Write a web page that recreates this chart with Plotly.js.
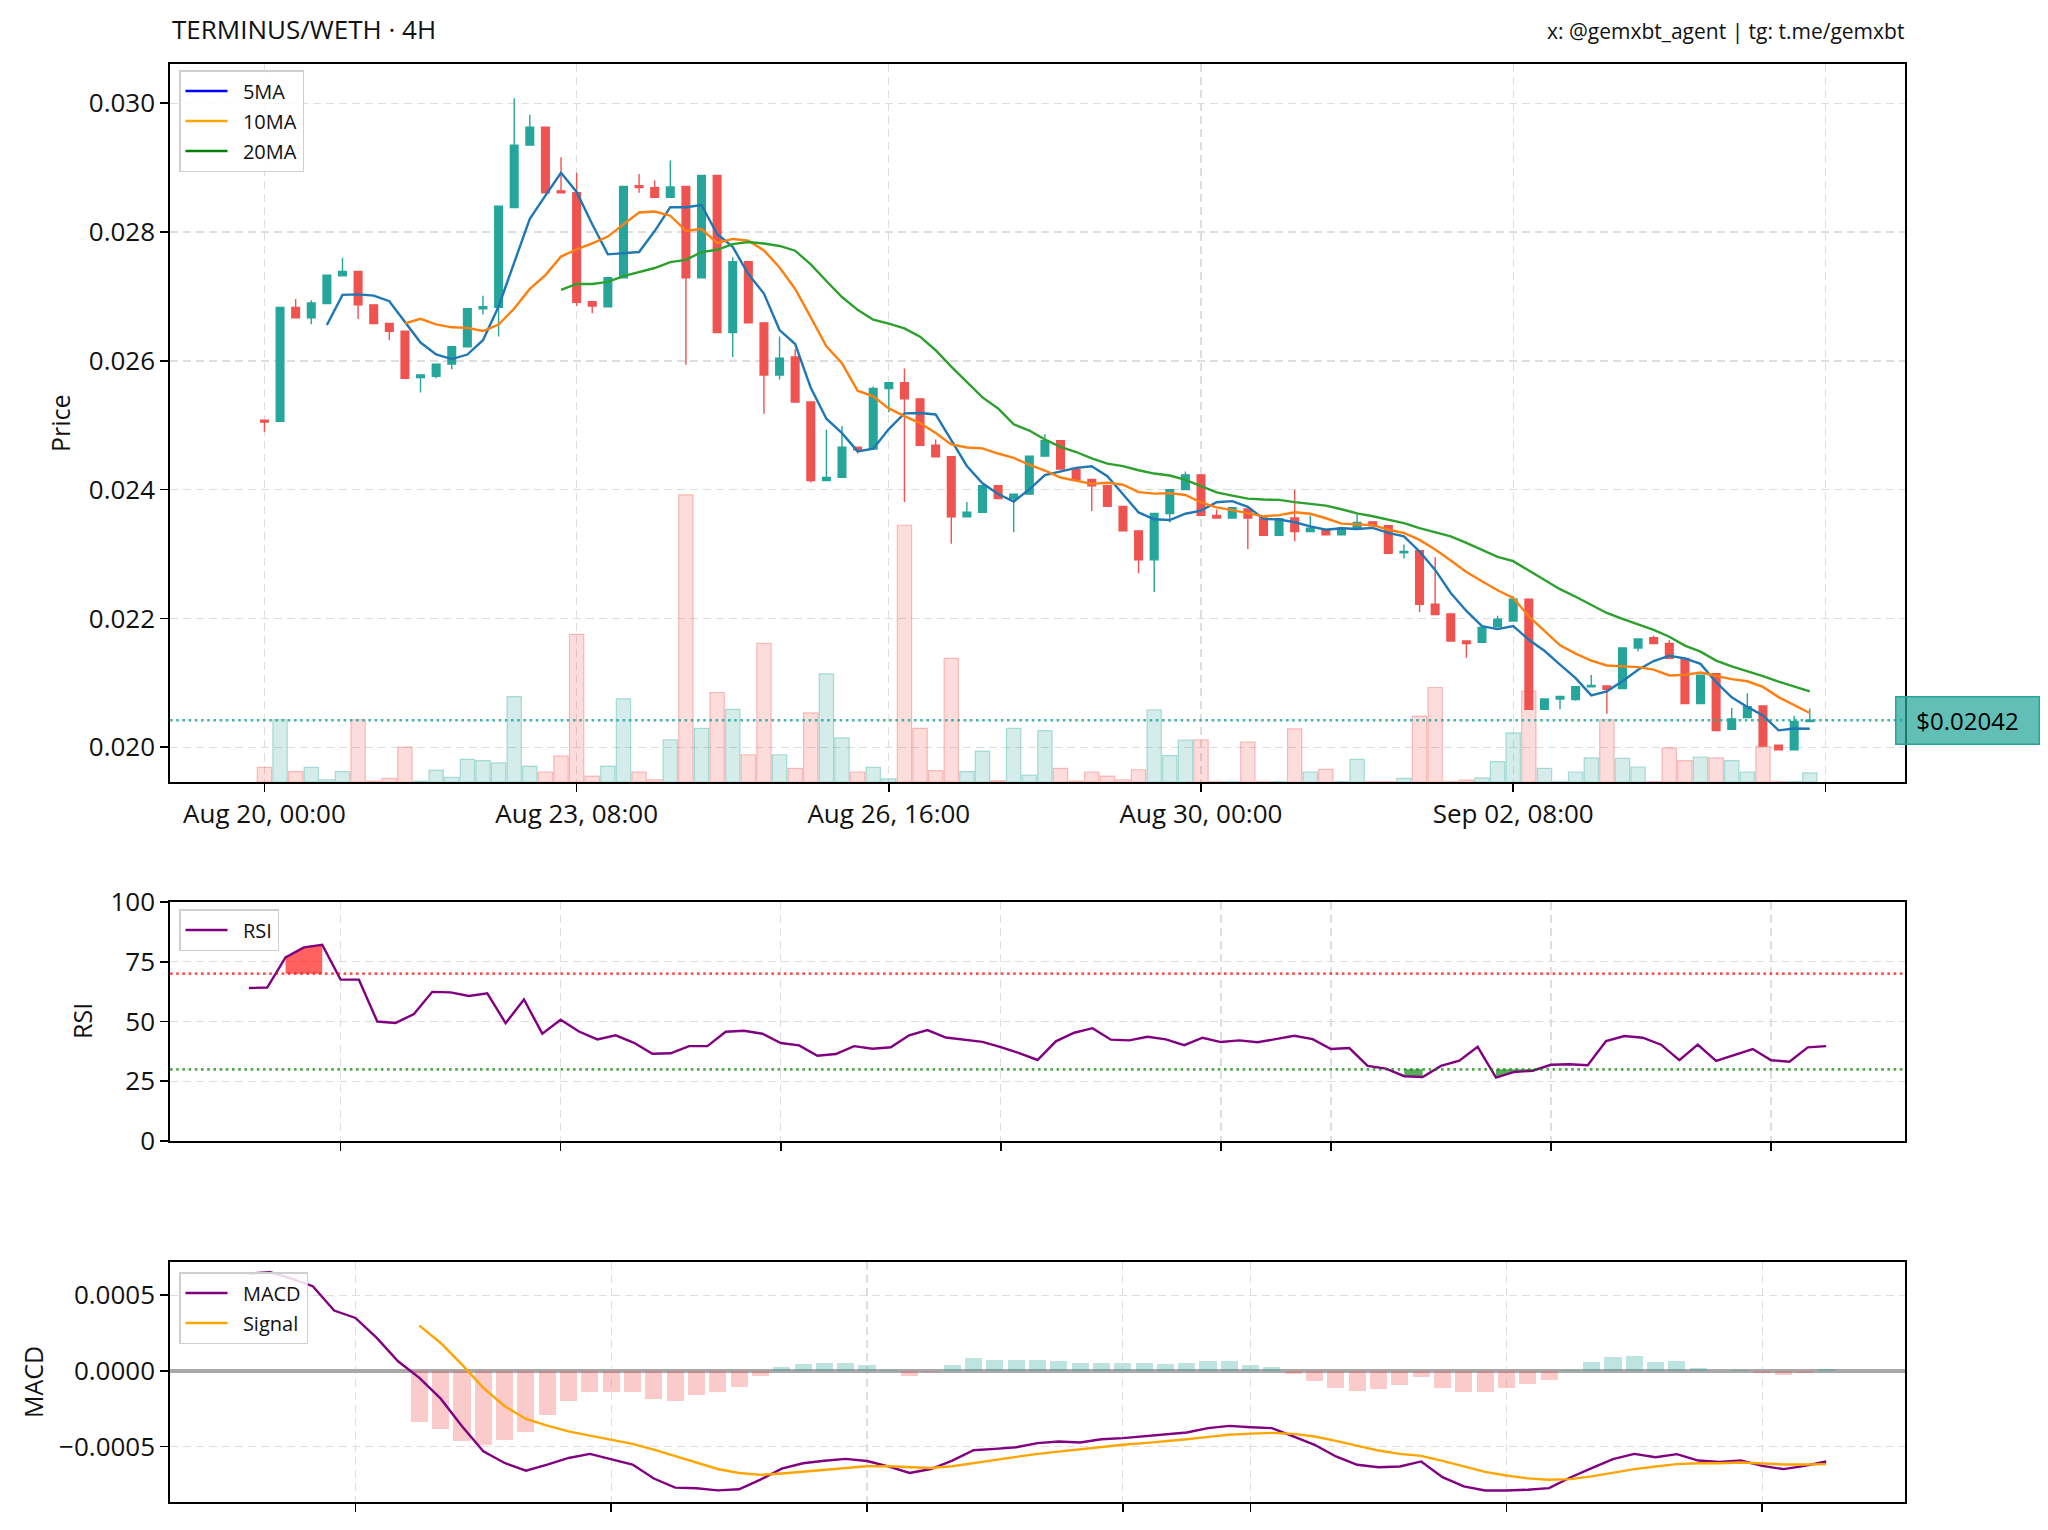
<!DOCTYPE html>
<html>
<head>
<meta charset="utf-8">
<script src="https://cdn.plot.ly/plotly-3.0.1.min.js"></script>
<style>
  html, body { margin: 0; padding: 0; background: #ffffff; }
  #chart { width: 2048px; height: 1530px; }
</style>
</head>
<body>
<div id="chart"></div>
<script>
// ---------------- DATA ----------------
// 4H candles, index 0 = Aug 20 00:00
const openP = [0.02508,0.02506,0.02683,0.02667,0.02689,0.02732,0.02739,0.02687,0.02658,0.02646,
  0.02574,0.02576,0.02595,0.02622,0.02681,0.02683,0.02838,0.02935,0.02963,0.02864,
  0.02861,0.02692,0.02684,0.02729,0.02872,0.02869,0.02854,0.02871,0.02729,0.02888,
  0.02644,0.02754,0.02659,0.02578,0.02606,0.02536,0.02414,0.02419,0.02466,0.02463,
  0.02557,0.02566,0.02541,0.02469,0.02451,0.02358,0.02365,0.02406,0.02386,0.02393,
  0.02452,0.02476,0.02432,0.02416,0.02406,0.02374,0.02336,0.02291,0.02363,0.02400,
  0.02423,0.02360,0.02356,0.02370,0.02356,0.02329,0.02356,0.02335,0.02338,0.02330,
  0.02340,0.02350,0.02344,0.02302,0.02305,0.02222,0.02207,0.02165,0.02163,0.02187,
  0.02196,0.02230,0.02059,0.02075,0.02074,0.02094,0.02095,0.02091,0.02154,0.02170,
  0.02161,0.02138,0.02068,0.02114,0.02028,0.02046,0.02064,0.02003,0.01996,0.02040];
const highP = [0.02508,0.02683,0.02696,0.02694,0.02733,0.02760,0.02739,0.02687,0.02658,0.02646,
  0.02578,0.02595,0.02622,0.02681,0.02701,0.02840,0.03008,0.02982,0.02963,0.02916,
  0.02892,0.02692,0.02729,0.02871,0.02890,0.02880,0.02911,0.02871,0.02888,0.02888,
  0.02761,0.02754,0.02659,0.02638,0.02618,0.02536,0.02493,0.02499,0.02466,0.02560,
  0.02566,0.02588,0.02541,0.02478,0.02451,0.02381,0.02406,0.02406,0.02393,0.02452,
  0.02486,0.02476,0.02432,0.02416,0.02406,0.02374,0.02336,0.02363,0.02400,0.02428,
  0.02423,0.02369,0.02372,0.02370,0.02356,0.02355,0.02400,0.02360,0.02338,0.02340,
  0.02363,0.02350,0.02344,0.02315,0.02305,0.02295,0.02207,0.02165,0.02186,0.02204,
  0.02235,0.02230,0.02075,0.02079,0.02094,0.02112,0.02095,0.02154,0.02168,0.02173,
  0.02166,0.02138,0.02112,0.02114,0.02061,0.02084,0.02064,0.02003,0.02049,0.02060];
const lowP = [0.02490,0.02505,0.02667,0.02657,0.02689,0.02732,0.02665,0.02658,0.02632,0.02573,
  0.02551,0.02573,0.02587,0.02622,0.02672,0.02638,0.02838,0.02935,0.02861,0.02860,
  0.02685,0.02674,0.02684,0.02729,0.02861,0.02854,0.02854,0.02594,0.02729,0.02644,
  0.02606,0.02659,0.02518,0.02571,0.02536,0.02411,0.02413,0.02419,0.02456,0.02463,
  0.02520,0.02381,0.02469,0.02451,0.02316,0.02358,0.02365,0.02386,0.02334,0.02393,
  0.02452,0.02432,0.02416,0.02367,0.02374,0.02336,0.02270,0.02241,0.02349,0.02400,
  0.02360,0.02356,0.02356,0.02308,0.02329,0.02329,0.02320,0.02335,0.02330,0.02330,
  0.02340,0.02344,0.02301,0.02293,0.02210,0.02206,0.02165,0.02139,0.02163,0.02187,
  0.02196,0.02059,0.02059,0.02059,0.02072,0.02094,0.02052,0.02091,0.02149,0.02161,
  0.02138,0.02068,0.02068,0.02026,0.02028,0.02046,0.02002,0.01996,0.01996,0.02040];
const closeP = [0.02505,0.02683,0.02667,0.02690,0.02733,0.02739,0.02687,0.02658,0.02646,0.02573,
  0.02578,0.02595,0.02622,0.02681,0.02684,0.02840,0.02935,0.02963,0.02861,0.02861,
  0.02691,0.02685,0.02729,0.02871,0.02869,0.02854,0.02870,0.02729,0.02888,0.02644,
  0.02754,0.02659,0.02578,0.02604,0.02536,0.02414,0.02419,0.02466,0.02462,0.02557,
  0.02566,0.02541,0.02469,0.02451,0.02358,0.02365,0.02406,0.02386,0.02393,0.02452,
  0.02476,0.02432,0.02416,0.02406,0.02374,0.02336,0.02291,0.02363,0.02400,0.02423,
  0.02360,0.02356,0.02372,0.02356,0.02329,0.02355,0.02335,0.02340,0.02330,0.02340,
  0.02349,0.02344,0.02301,0.02304,0.02222,0.02206,0.02165,0.02161,0.02186,0.02199,
  0.02230,0.02059,0.02075,0.02079,0.02094,0.02096,0.02090,0.02154,0.02168,0.02161,
  0.02138,0.02068,0.02112,0.02026,0.02044,0.02063,0.02002,0.01996,0.02040,0.02042];
const volume = [32,137,23,32,5,23,137,2,8,77,
  2,26,10,50,47,42,188,35,22,57,
  325,13,35,183,22,5,93,632,118,197,
  160,60,305,60,30,152,238,97,22,32,
  7,565,118,25,272,23,68,3,118,15,
  113,30,2,22,13,5,27,159,58,92,
  93,1,1,88,1,1,117,22,28,1,
  50,1,1,8,145,208,1,4,9,45,
  108,200,30,1,22,53,137,52,33,1,
  75,47,55,53,47,22,78,1,1,20];
const lastPrice = 0.02042;

// RSI, first value at candle 13
const rsiStart = 13;
const rsi = [64.0,64.2,76.8,81.0,82.1,67.5,67.5,50.0,49.4,53.1,
  62.4,62.2,60.7,61.8,49.3,59.2,44.9,50.7,45.8,42.5,
  44.2,41.1,36.5,36.7,39.7,39.7,45.7,46.1,44.9,41.0,
  40.0,35.7,36.4,39.7,38.6,39.2,44.2,46.4,43.3,42.4,
  41.5,39.3,36.8,33.9,41.7,45.3,47.2,42.4,42.1,43.6,
  42.5,40.1,43.2,41.4,42.1,41.3,42.6,44.0,42.6,38.5,
  38.9,31.4,30.3,27.1,26.8,31.4,33.6,39.4,26.5,28.9,
  29.4,31.9,32.1,31.7,41.8,43.9,43.2,40.3,33.8,40.3,
  33.5,36.1,38.5,33.8,33.2,39.2,39.7];

// MACD, first value at candle 25; signal and histogram at candle 33
const macdStart = 25;
const macd = [0.000643,0.000652,0.000610,0.000560,0.000399,0.000350,0.000218,0.000064,-0.000046,-0.000183,
  -0.000366,-0.000531,-0.000608,-0.000659,-0.000619,-0.000575,-0.000548,-0.000586,-0.000619,-0.000711,
  -0.000771,-0.000775,-0.000789,-0.000782,-0.000718,-0.000645,-0.000610,-0.000593,-0.000581,-0.000595,
  -0.000630,-0.000674,-0.000648,-0.000593,-0.000524,-0.000515,-0.000504,-0.000477,-0.000466,-0.000473,
  -0.000451,-0.000444,-0.000433,-0.000422,-0.000407,-0.000378,-0.000363,-0.000372,-0.000378,-0.000433,
  -0.000488,-0.000565,-0.000620,-0.000636,-0.000631,-0.000598,-0.000702,-0.000763,-0.000790,-0.000790,
  -0.000785,-0.000774,-0.000704,-0.000642,-0.000583,-0.000548,-0.000570,-0.000550,-0.000592,-0.000601,
  -0.000592,-0.000627,-0.000649,-0.000627,-0.000598];
const signalStart = 33;
const signal = [0.000300,0.000185,0.000042,-0.000112,-0.000233,-0.000317,-0.000361,-0.000399,-0.000427,-0.000454,
  -0.000482,-0.000520,-0.000564,-0.000608,-0.000648,-0.000674,-0.000687,-0.000678,-0.000665,-0.000652,
  -0.000639,-0.000630,-0.000630,-0.000637,-0.000641,-0.000630,-0.000608,-0.000588,-0.000568,-0.000548,
  -0.000532,-0.000517,-0.000504,-0.000488,-0.000477,-0.000466,-0.000451,-0.000436,-0.000422,-0.000414,
  -0.000409,-0.000416,-0.000433,-0.000462,-0.000495,-0.000526,-0.000548,-0.000561,-0.000594,-0.000631,
  -0.000667,-0.000691,-0.000710,-0.000719,-0.000715,-0.000697,-0.000671,-0.000649,-0.000631,-0.000616,
  -0.000610,-0.000610,-0.000605,-0.000610,-0.000618,-0.000618,-0.000616];
const hist = [-0.000339,-0.000381,-0.000465,-0.000491,-0.000454,-0.000405,-0.000289,-0.000200,-0.000139,-0.000139,
  -0.000139,-0.000183,-0.000196,-0.000159,-0.000139,-0.000104,-0.000035,0.000029,0.000048,0.000053,
  0.000053,0.000037,0.000005,-0.000035,-0.000009,0.000037,0.000084,0.000075,0.000070,0.000073,
  0.000068,0.000051,0.000055,0.000051,0.000051,0.000046,0.000051,0.000066,0.000066,0.000040,
  0.000029,-0.000022,-0.000064,-0.000110,-0.000130,-0.000119,-0.000092,-0.000037,-0.000114,-0.000139,
  -0.000139,-0.000114,-0.000086,-0.000059,0.000004,0.000057,0.000090,0.000099,0.000057,0.000066,
  0.000018,0.000002,0.000007,-0.000011,-0.000029,-0.000011,0.000011];

// Axis ticks (candle index positions and labels)
const priceTickIdx = [0, 20, 40, 60, 80, 100];
const priceTickText = ['Aug 20, 00:00', 'Aug 23, 08:00', 'Aug 26, 16:00', 'Aug 30, 00:00', 'Sep 02, 08:00', ''];
const rsiTickIdx = [18, 30, 42, 54, 66, 72, 84, 96];
const macdTickIdx = [30, 42, 54, 66, 72, 84, 96];

// ---------------- BUILD ----------------
const GREEN = '#26a69a', RED = '#ef5350';
const GAP = '\u00a0\u00a0';   // spacing between legend line and label
const idx = closeP.map((_, i) => i);
function sma(arr, n) {
  return arr.map((v, i) => i < n - 1 ? null : arr.slice(i - n + 1, i + 1).reduce((a, b) => a + b, 0) / n);
}
const up = closeP.map((c, i) => c >= openP[i]);
const volFill = up.map(u => u ? 'rgba(38,166,154,0.2)' : 'rgba(239,83,80,0.2)');
const volEdge = up.map(u => u ? 'rgba(38,166,154,0.35)' : 'rgba(239,83,80,0.35)');
const rsiX = rsi.map((_, k) => rsiStart + k);
const macdX = macd.map((_, k) => macdStart + k);
const sigX = signal.map((_, k) => signalStart + k);
const histColor = hist.map(h => h >= 0 ? 'rgba(38,166,154,0.3)' : 'rgba(239,83,80,0.3)');

const traces = [];
traces.push({type: 'bar', x: idx, y: volume, xaxis: 'x', yaxis: 'y', width: 0.92,
  marker: {color: volFill, line: {color: volEdge, width: 1.2}}, showlegend: false, hoverinfo: 'skip'});
traces.push({type: 'candlestick', x: idx, open: openP, high: highP, low: lowP, close: closeP,
  xaxis: 'x', yaxis: 'y2', showlegend: false, whiskerwidth: 0,
  increasing: {line: {color: GREEN, width: 1.4}, fillcolor: GREEN},
  decreasing: {line: {color: RED, width: 1.4}, fillcolor: RED}});
const maDefs = [[5, '#1f77b4', '#0000ff', '5MA'], [10, '#ff7f0e', '#ffa500', '10MA'], [20, '#2ca02c', '#008000', '20MA']];
maDefs.forEach(d => {
  traces.push({type: 'scatter', mode: 'lines', x: idx, y: sma(closeP, d[0]), xaxis: 'x', yaxis: 'y2',
    line: {color: d[1], width: 2.4}, showlegend: false, hoverinfo: 'skip'});
});
maDefs.forEach(d => {
  traces.push({type: 'scatter', mode: 'lines', x: [null], y: [null], xaxis: 'x', yaxis: 'y2', name: GAP + d[3],
    line: {color: d[2], width: 2.4}, legend: 'legend', legendgroup: d[3]});
});

// RSI fills (where RSI above 70 / below 30)
function runs(cond) {
  const out = []; let cur = null;
  rsi.forEach((v, k) => {
    if (cond(v)) { if (!cur) { cur = []; out.push(cur); } cur.push(k); } else cur = null;
  });
  return out;
}
[[v => v > 70, 70, 'rgba(255,0,0,0.62)'], [v => v < 30, 30, 'rgba(0,128,0,0.65)']].forEach(f => {
  runs(f[0]).forEach(run => {
    const xs = run.map(k => rsiX[k]);
    traces.push({type: 'scatter', mode: 'lines', x: xs, y: xs.map(() => f[1]), xaxis: 'x2', yaxis: 'y3',
      line: {width: 0, color: 'rgba(0,0,0,0)'}, showlegend: false, hoverinfo: 'skip'});
    traces.push({type: 'scatter', mode: 'lines', x: xs, y: run.map(k => rsi[k]), xaxis: 'x2', yaxis: 'y3',
      fill: 'tonexty', fillcolor: f[2], line: {width: 0, color: 'rgba(0,0,0,0)'}, showlegend: false, hoverinfo: 'skip'});
  });
});
traces.push({type: 'scatter', mode: 'lines', x: rsiX, y: rsi, xaxis: 'x2', yaxis: 'y3', name: GAP + 'RSI',
  line: {color: '#800080', width: 2.4}, legend: 'legend2'});

traces.push({type: 'bar', x: sigX, y: hist, xaxis: 'x3', yaxis: 'y4', width: 0.8,
  marker: {color: histColor, line: {width: 0}}, showlegend: false, hoverinfo: 'skip'});
traces.push({type: 'scatter', mode: 'lines', x: macdX, y: macd, xaxis: 'x3', yaxis: 'y4', name: GAP + 'MACD',
  line: {color: '#800080', width: 2.4}, legend: 'legend3', legendgroup: 'm1'});
traces.push({type: 'scatter', mode: 'lines', x: sigX, y: signal, xaxis: 'x3', yaxis: 'y4', name: GAP + 'Signal',
  line: {color: '#ffa500', width: 2.4}, legend: 'legend3', legendgroup: 'm2'});

// ---------------- LAYOUT ----------------
const W = 2048, H = 1530;
const XD = [170 / W, 1905 / W];
const PRICE_D = [1 - 782 / H, 1 - 64 / H];
const RSI_D = [1 - 1141 / H, 1 - 902 / H];
const MACD_D = [1 - 1502 / H, 1 - 1262 / H];
const FONT = 'Open Sans, Noto Sans, sans-serif';
const tickFont = {family: FONT, size: 26, color: '#111'};
const baseAxis = {showline: true, mirror: true, linecolor: '#000', linewidth: 1.7,
  ticks: 'outside', ticklen: 8, tickwidth: 1.6, tickcolor: '#000', tickfont: tickFont,
  showgrid: true, gridcolor: '#dedede', gridwidth: 1.3, griddash: '8px,5px', zeroline: false, fixedrange: true};
const legendBase = {bgcolor: 'rgba(255,255,255,0.85)', bordercolor: '#cfcfcf', borderwidth: 1.5,
  font: {family: FONT, size: 20, color: '#111'}, xanchor: 'left', yanchor: 'top', x: 179 / W,
  tracegroupgap: 1, itemwidth: 42};

const layout = {
  width: W, height: H, margin: {l: 0, r: 0, t: 0, b: 0},
  paper_bgcolor: '#ffffff', plot_bgcolor: '#ffffff',
  font: {family: FONT, color: '#111'},
  bargap: 0,
  xaxis: Object.assign({}, baseAxis, {domain: XD, anchor: 'y', range: [-6.05, 105.1],
    tickmode: 'array', tickvals: priceTickIdx, ticktext: priceTickText, rangeslider: {visible: false}}),
  yaxis: {domain: PRICE_D, anchor: 'x', range: [0, 1580], visible: false, showgrid: false, zeroline: false, fixedrange: true},
  yaxis2: Object.assign({}, baseAxis, {overlaying: 'y', anchor: 'x', side: 'left', range: [0.01946, 0.03061],
    tickmode: 'array', tickvals: [0.020, 0.022, 0.024, 0.026, 0.028, 0.030], tickformat: '.3f'}),
  xaxis2: Object.assign({}, baseAxis, {domain: XD, anchor: 'y3', range: [8.7, 103.3],
    tickmode: 'array', tickvals: rsiTickIdx, showticklabels: false}),
  yaxis3: Object.assign({}, baseAxis, {domain: RSI_D, anchor: 'x2', range: [0, 100],
    tickmode: 'array', tickvals: [0, 25, 50, 75, 100]}),
  xaxis3: Object.assign({}, baseAxis, {domain: XD, anchor: 'y4', range: [21.3, 102.7],
    tickmode: 'array', tickvals: macdTickIdx, showticklabels: false}),
  yaxis4: Object.assign({}, baseAxis, {domain: MACD_D, anchor: 'x3', range: [-0.000866, 0.00072],
    tickmode: 'array', tickvals: [-0.0005, 0, 0.0005], tickformat: '.4f',
    zeroline: true, zerolinecolor: '#a8a8a8', zerolinewidth: 3.2}),
  legend: Object.assign({}, legendBase, {y: 1 - 70 / H}),
  legend2: Object.assign({}, legendBase, {y: 1 - 909 / H}),
  legend3: Object.assign({}, legendBase, {y: 1 - 1272 / H}),
  shapes: [
    {type: 'line', xref: 'x domain', yref: 'y2', x0: 0, x1: 1, y0: lastPrice, y1: lastPrice,
      line: {color: 'rgba(38,166,154,0.85)', width: 2.6, dash: '2.6px,3.6px'}, layer: 'above'},
    {type: 'line', xref: 'x2 domain', yref: 'y3', x0: 0, x1: 1, y0: 70, y1: 70,
      line: {color: 'rgba(255,0,0,0.68)', width: 2.8, dash: '2.6px,3.6px'}, layer: 'above'},
    {type: 'line', xref: 'x2 domain', yref: 'y3', x0: 0, x1: 1, y0: 30, y1: 30,
      line: {color: 'rgba(0,128,0,0.68)', width: 2.8, dash: '2.6px,3.6px'}, layer: 'above'}
  ],
  annotations: [
    {text: 'TERMINUS/WETH · 4H', xref: 'paper', yref: 'paper', x: 170 / W, y: 1 - 29 / H,
      xanchor: 'left', yanchor: 'middle', showarrow: false, font: {family: FONT, size: 26, color: '#111'}},
    {text: 'x: @gemxbt_agent | tg: t.me/gemxbt', xref: 'paper', yref: 'paper', x: 1906 / W, y: 1 - 31 / H,
      xanchor: 'right', yanchor: 'middle', showarrow: false, font: {family: FONT, size: 21, color: '#111'}},
    {text: 'Price', xref: 'paper', yref: 'paper', x: 60 / W, y: 1 - 423 / H, textangle: -90,
      xanchor: 'center', yanchor: 'middle', showarrow: false, font: {family: FONT, size: 25, color: '#111'}},
    {text: 'RSI', xref: 'paper', yref: 'paper', x: 82 / W, y: 1 - 1021 / H, textangle: -90,
      xanchor: 'center', yanchor: 'middle', showarrow: false, font: {family: FONT, size: 25, color: '#111'}},
    {text: 'MACD', xref: 'paper', yref: 'paper', x: 33 / W, y: 1 - 1382 / H, textangle: -90,
      xanchor: 'center', yanchor: 'middle', showarrow: false, font: {family: FONT, size: 25, color: '#111'}},
    {text: '$' + lastPrice.toFixed(5), xref: 'paper', yref: 'y2', x: 1895 / W, y: lastPrice,
      xanchor: 'left', yanchor: 'middle', showarrow: false, align: 'center', width: 126, height: 30, borderpad: 8,
      bgcolor: 'rgba(38,166,154,0.72)', bordercolor: 'rgba(38,166,154,1)', borderwidth: 1.5,
      font: {family: FONT, size: 24, color: '#000'}}
  ]
};

Plotly.newPlot('chart', traces, layout, {staticPlot: true, displayModeBar: false});
</script>
</body>
</html>
